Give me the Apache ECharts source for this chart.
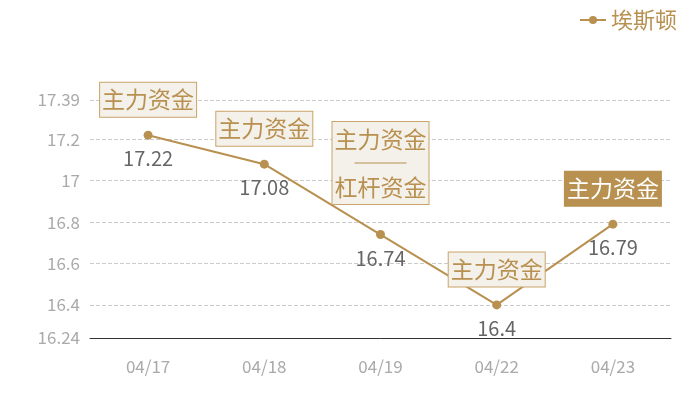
<!DOCTYPE html>
<html>
<head>
<meta charset="utf-8">
<script src="https://cdn.jsdelivr.net/npm/echarts@6/dist/echarts.min.js"></script>
<style>
  html, body { margin: 0; padding: 0; background: #fff; }
  #main { width: 700px; height: 400px; }
</style>
</head>
<body>
<div id="main"></div>
<script>
// 数据
var dates = ['04/17', '04/18', '04/19', '04/22', '04/23'];
var prices = [17.22, 17.08, 16.74, 16.4, 16.79];
var tags = ['主力资金', '主力资金', '主力资金\n杠杆资金', '主力资金', '主力资金'];
var highlightIndex = 4;

var gold = '#b8904f';
var font = 'Noto Sans CJK SC';

var myChart = echarts.init(document.getElementById('main'));

// 标注框数据
var tagData = prices.map(function (v, i) {
    var item = { value: v };
    var lines = tags[i].split('\n');
    if (lines.length > 1) {
        item.label = {
            distance: 30,
            formatter: '{t|' + lines[0] + '}\n{s| }\n{t|' + lines[1] + '}'
        };
    }
    if (i === highlightIndex) {
        item.label = {
            backgroundColor: gold,
            borderColor: gold,
            formatter: '{w|' + tags[i] + '}'
        };
    }
    return item;
});

var option = {
    textStyle: { fontFamily: font },
    legend: {
        right: 18,
        top: 4,
        itemWidth: 26,
        itemHeight: 10,
        textStyle: { color: gold, fontSize: 22, fontFamily: font },
        data: ['埃斯顿']
    },
    grid: { left: 90, right: 29, top: 100, bottom: 62 },
    xAxis: {
        type: 'category',
        data: dates,
        axisLine: { lineStyle: { color: '#333' } },
        axisTick: { show: false },
        axisLabel: { color: '#aaa', fontSize: 17, margin: 20, fontFamily: font }
    },
    yAxis: {
        type: 'value',
        min: 16.24,
        max: 17.39,
        splitNumber: 5,
        axisLine: { show: false },
        axisTick: { show: false },
        axisLabel: { color: '#aaa', fontSize: 17, margin: 10, fontFamily: font },
        splitLine: { lineStyle: { color: '#ccc', type: 'dashed' } }
    },
    series: [
        {
            name: '埃斯顿',
            type: 'line',
            data: prices,
            symbol: 'circle',
            symbolSize: 9,
            itemStyle: { color: gold },
            lineStyle: { color: gold, width: 2 },
            label: {
                show: true,
                position: 'bottom',
                distance: 9,
                color: '#666',
                fontSize: 20,
                fontFamily: font
            },
            z: 3
        },
        {
            name: 'tag',
            type: 'line',
            data: tagData,
            symbol: 'circle',
            symbolSize: 1,
            silent: true,
            itemStyle: { color: 'rgba(0,0,0,0)' },
            lineStyle: { opacity: 0 },
            label: {
                show: true,
                position: 'top',
                distance: 18,
                color: gold,
                fontSize: 23,
                fontFamily: font,
                backgroundColor: '#f4f0ea',
                borderColor: '#c9a46a',
                borderWidth: 1,
                padding: [2, 2, 2, 2],
                lineHeight: 30,
                formatter: function (p) { return '{t|' + tags[p.dataIndex] + '}'; },
                rich: {
                    t: { color: gold, fontSize: 23, fontFamily: font, lineHeight: 30 },
                    w: { color: '#fff', fontSize: 23, fontFamily: font, lineHeight: 30 },
                    s: { width: 52, height: 1, lineHeight: 18, backgroundColor: gold }
                }
            },
            z: 5
        }
    ]
};

myChart.setOption(option);
</script>
</body>
</html>
